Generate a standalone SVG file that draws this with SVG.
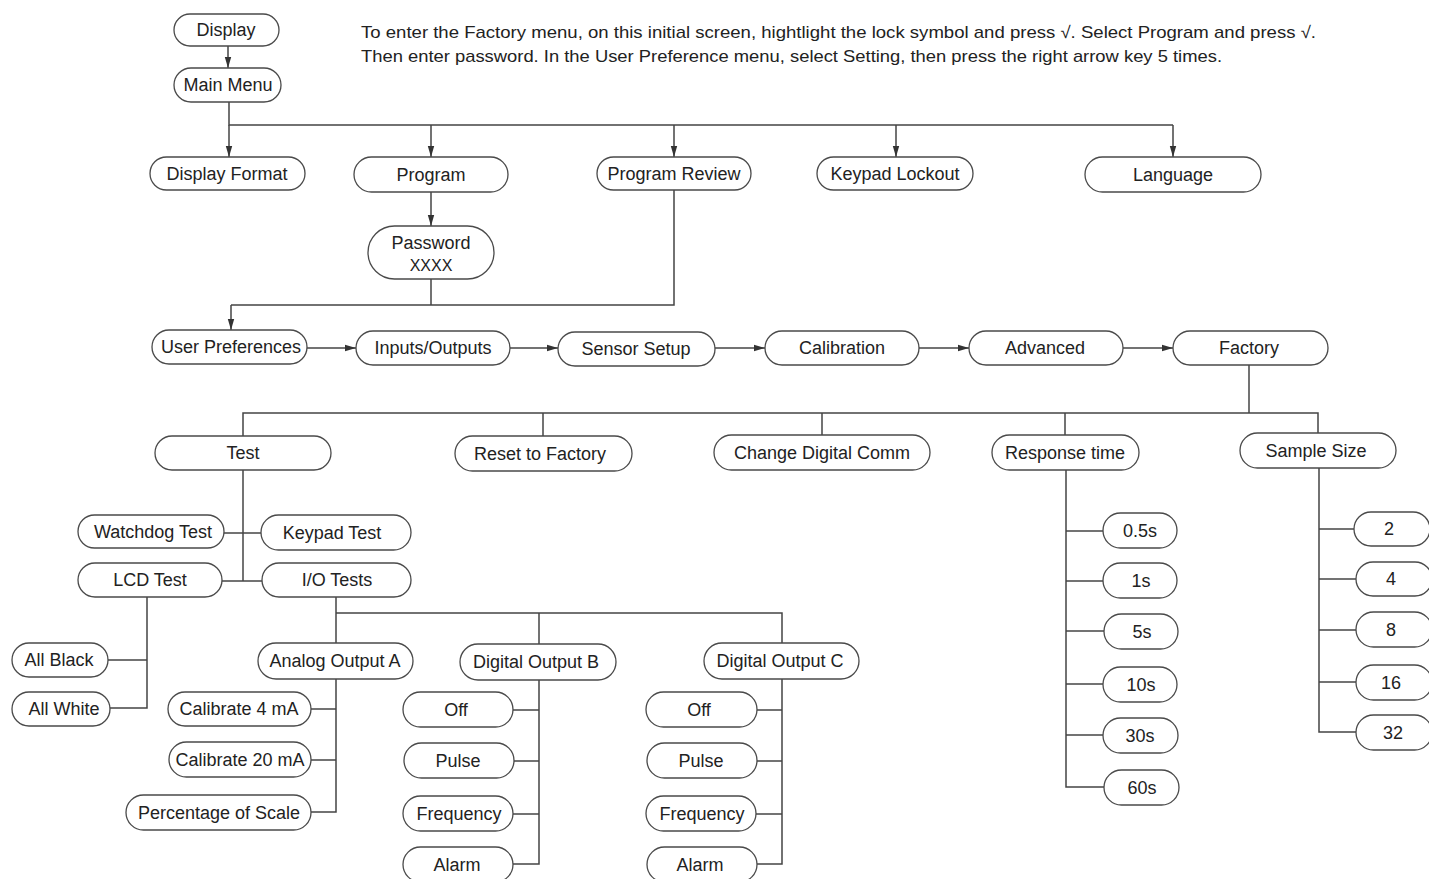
<svg xmlns="http://www.w3.org/2000/svg" width="1429" height="879" viewBox="0 0 1429 879">
<style>
.n rect{fill:#fff;stroke:#4a4a4a;stroke-width:1.3}
.n text{font-family:"Liberation Sans",Arial,sans-serif;font-size:18px;fill:#222;text-anchor:middle}
.c path{fill:none;stroke:#444;stroke-width:1.5}
.note{font-family:"Liberation Sans",Arial,sans-serif;font-size:17px;fill:#222}
</style>
<defs>
<marker id="ah" markerUnits="userSpaceOnUse" markerWidth="12" markerHeight="8" refX="11" refY="4" orient="auto">
<path d="M0,0.8 L11,4 L0,7.2 z" fill="#333"/>
</marker>
</defs>
<text class="note" x="361" y="38" textLength="955" lengthAdjust="spacingAndGlyphs">To enter the Factory menu, on this initial screen, hightlight the lock symbol and press √. Select Program and press √.</text>
<text class="note" x="361" y="62" textLength="861" lengthAdjust="spacingAndGlyphs">Then enter password. In the User Preference menu, select Setting, then press the right arrow key 5 times.</text>
<g class="c" id="connectors">
<path d="M228,46 V68" marker-end="url(#ah)"/>
<path d="M229,102 V125 H1173"/>
<path d="M229,125 V157" marker-end="url(#ah)"/>
<path d="M431,125 V157" marker-end="url(#ah)"/>
<path d="M674,125 V157" marker-end="url(#ah)"/>
<path d="M896,125 V157" marker-end="url(#ah)"/>
<path d="M1173,125 V157" marker-end="url(#ah)"/>
<path d="M431,192 V226" marker-end="url(#ah)"/>
<path d="M431,279 V305"/>
<path d="M674,190 V305 H231"/>
<path d="M231,305 V330" marker-end="url(#ah)"/>
<path d="M307,348 H356" marker-end="url(#ah)"/>
<path d="M510,348 H558" marker-end="url(#ah)"/>
<path d="M715,348 H765" marker-end="url(#ah)"/>
<path d="M919,348 H969" marker-end="url(#ah)"/>
<path d="M1123,348 H1173" marker-end="url(#ah)"/>
<path d="M1249,365 V413"/>
<path d="M243,436 V413 H1318 V433"/>
<path d="M543,413 V436"/>
<path d="M822,413 V435"/>
<path d="M1065,413 V435"/>
<path d="M243,470 V581"/>
<path d="M224,533 H261"/>
<path d="M222,581 H262"/>
<path d="M147,597 V708 H110"/>
<path d="M108,660 H147"/>
<path d="M336,597 V643"/>
<path d="M336,613 H782 V643"/>
<path d="M539,613 V644"/>
<path d="M336,679 V812 H311"/>
<path d="M311,709 H336"/>
<path d="M311,760 H336"/>
<path d="M539,680 V864 H513"/>
<path d="M513,710 H539"/>
<path d="M514,761 H539"/>
<path d="M513,814 H539"/>
<path d="M782,679 V864 H757"/>
<path d="M757,710 H782"/>
<path d="M757,761 H782"/>
<path d="M756,814 H782"/>
<path d="M1066,470 V787 H1104"/>
<path d="M1066,531 H1103"/>
<path d="M1066,581 H1103"/>
<path d="M1066,631 H1104"/>
<path d="M1066,684 H1103"/>
<path d="M1066,735 H1103"/>
<path d="M1319,468 V732 H1356"/>
<path d="M1319,529 H1354"/>
<path d="M1319,579 H1356"/>
<path d="M1319,630 H1356"/>
<path d="M1319,682 H1356"/>
</g>
<g class="n" id="display"><rect x="174" y="14" width="105" height="32" rx="16"/><text x="226" y="36">Display</text></g>
<g class="n" id="main-menu"><rect x="174" y="68" width="107" height="34" rx="17"/><text x="228" y="91">Main Menu</text></g>
<g class="n" id="display-format"><rect x="150" y="157" width="155" height="33" rx="16.5"/><text x="227" y="180">Display Format</text></g>
<g class="n" id="program"><rect x="354" y="157" width="154" height="35" rx="17.5"/><text x="431" y="181">Program</text></g>
<g class="n" id="program-review"><rect x="597" y="157" width="154" height="33" rx="16.5"/><text x="674" y="180">Program Review</text></g>
<g class="n" id="keypad-lockout"><rect x="817" y="157" width="156" height="33" rx="16.5"/><text x="895" y="180">Keypad Lockout</text></g>
<g class="n" id="language"><rect x="1085" y="157" width="176" height="35" rx="17.5"/><text x="1173" y="181">Language</text></g>
<g class="n" id="password"><rect x="368" y="226" width="126" height="53" rx="26.5"/><text x="431" y="249">Password</text><text x="431" y="271" style="font-size:16px">XXXX</text></g>
<g class="n" id="user-preferences"><rect x="152" y="330" width="155" height="34" rx="17"/><text x="231" y="353">User Preferences</text></g>
<g class="n" id="inputs-outputs"><rect x="356" y="331" width="154" height="34" rx="17"/><text x="433" y="354">Inputs/Outputs</text></g>
<g class="n" id="sensor-setup"><rect x="558" y="332" width="157" height="34" rx="17"/><text x="636" y="355">Sensor Setup</text></g>
<g class="n" id="calibration"><rect x="765" y="331" width="154" height="34" rx="17"/><text x="842" y="354">Calibration</text></g>
<g class="n" id="advanced"><rect x="969" y="331" width="154" height="34" rx="17"/><text x="1045" y="354">Advanced</text></g>
<g class="n" id="factory"><rect x="1173" y="331" width="155" height="34" rx="17"/><text x="1249" y="354">Factory</text></g>
<g class="n" id="test"><rect x="155" y="436" width="176" height="34" rx="17"/><text x="243" y="459">Test</text></g>
<g class="n" id="reset-to-factory"><rect x="455" y="436" width="177" height="35" rx="17.5"/><text x="540" y="460">Reset to Factory</text></g>
<g class="n" id="change-digital-comm"><rect x="714" y="435" width="216" height="35" rx="17.5"/><text x="822" y="459">Change Digital Comm</text></g>
<g class="n" id="response-time"><rect x="992" y="435" width="147" height="35" rx="17.5"/><text x="1065" y="459">Response time</text></g>
<g class="n" id="sample-size"><rect x="1240" y="433" width="156" height="35" rx="17.5"/><text x="1316" y="457">Sample Size</text></g>
<g class="n" id="watchdog-test"><rect x="78" y="515" width="146" height="33" rx="16.5"/><text x="153" y="538">Watchdog Test</text></g>
<g class="n" id="keypad-test"><rect x="261" y="515" width="150" height="35" rx="17.5"/><text x="332" y="539">Keypad Test</text></g>
<g class="n" id="lcd-test"><rect x="78" y="563" width="144" height="34" rx="17"/><text x="150" y="586">LCD Test</text></g>
<g class="n" id="io-tests"><rect x="262" y="563" width="149" height="34" rx="17"/><text x="337" y="586">I/O Tests</text></g>
<g class="n" id="all-black"><rect x="12" y="643" width="96" height="34" rx="17"/><text x="59" y="666">All Black</text></g>
<g class="n" id="all-white"><rect x="12" y="692" width="98" height="34" rx="17"/><text x="64" y="715">All White</text></g>
<g class="n" id="analog-output-a"><rect x="258" y="643" width="155" height="36" rx="18"/><text x="335" y="667">Analog Output A</text></g>
<g class="n" id="calibrate-4ma"><rect x="168" y="692" width="143" height="34" rx="17"/><text x="239" y="715">Calibrate 4 mA</text></g>
<g class="n" id="calibrate-20ma"><rect x="169" y="742" width="142" height="35" rx="17.5"/><text x="240" y="766">Calibrate 20 mA</text></g>
<g class="n" id="percentage-of-scale"><rect x="126" y="795" width="185" height="35" rx="17.5"/><text x="219" y="819">Percentage of Scale</text></g>
<g class="n" id="digital-output-b"><rect x="460" y="644" width="156" height="36" rx="18"/><text x="536" y="668">Digital Output B</text></g>
<g class="n" id="b-off"><rect x="403" y="692" width="110" height="35" rx="17.5"/><text x="456" y="716">Off</text></g>
<g class="n" id="b-pulse"><rect x="404" y="743" width="110" height="35" rx="17.5"/><text x="458" y="767">Pulse</text></g>
<g class="n" id="b-frequency"><rect x="403" y="796" width="110" height="35" rx="17.5"/><text x="459" y="820">Frequency</text></g>
<g class="n" id="b-alarm"><rect x="403" y="847" width="110" height="35" rx="17.5"/><text x="457" y="871">Alarm</text></g>
<g class="n" id="digital-output-c"><rect x="704" y="643" width="155" height="36" rx="18"/><text x="780" y="667">Digital Output C</text></g>
<g class="n" id="c-off"><rect x="646" y="692" width="111" height="35" rx="17.5"/><text x="699" y="716">Off</text></g>
<g class="n" id="c-pulse"><rect x="647" y="743" width="110" height="35" rx="17.5"/><text x="701" y="767">Pulse</text></g>
<g class="n" id="c-frequency"><rect x="646" y="796" width="110" height="35" rx="17.5"/><text x="702" y="820">Frequency</text></g>
<g class="n" id="c-alarm"><rect x="647" y="847" width="110" height="35" rx="17.5"/><text x="700" y="871">Alarm</text></g>
<g class="n" id="rt-0-5s"><rect x="1103" y="513" width="74" height="35" rx="17.5"/><text x="1140" y="537">0.5s</text></g>
<g class="n" id="rt-1s"><rect x="1103" y="563" width="74" height="35" rx="17.5"/><text x="1141" y="587">1s</text></g>
<g class="n" id="rt-5s"><rect x="1104" y="614" width="74" height="35" rx="17.5"/><text x="1142" y="638">5s</text></g>
<g class="n" id="rt-10s"><rect x="1103" y="667" width="74" height="35" rx="17.5"/><text x="1141" y="691">10s</text></g>
<g class="n" id="rt-30s"><rect x="1103" y="718" width="75" height="35" rx="17.5"/><text x="1140" y="742">30s</text></g>
<g class="n" id="rt-60s"><rect x="1104" y="770" width="75" height="35" rx="17.5"/><text x="1142" y="794">60s</text></g>
<g class="n" id="ss-2"><rect x="1354" y="512" width="76" height="34" rx="17"/><text x="1389" y="535">2</text></g>
<g class="n" id="ss-4"><rect x="1356" y="562" width="76" height="34" rx="17"/><text x="1391" y="585">4</text></g>
<g class="n" id="ss-8"><rect x="1356" y="612" width="76" height="35" rx="17.5"/><text x="1391" y="636">8</text></g>
<g class="n" id="ss-16"><rect x="1356" y="665" width="76" height="35" rx="17.5"/><text x="1391" y="689">16</text></g>
<g class="n" id="ss-32"><rect x="1356" y="715" width="76" height="35" rx="17.5"/><text x="1393" y="739">32</text></g>
</svg>
